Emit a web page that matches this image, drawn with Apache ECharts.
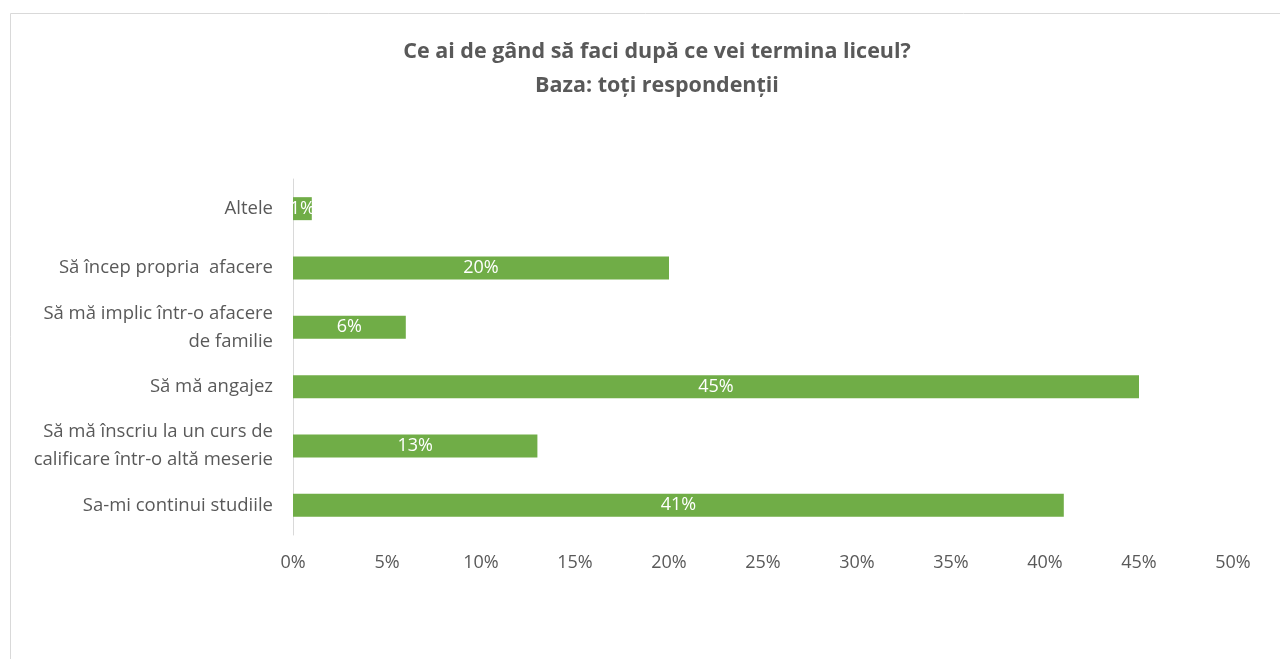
<!DOCTYPE html>
<html>
<head>
<meta charset="utf-8">
<script src="https://cdn.jsdelivr.net/npm/echarts@6/dist/echarts.min.js"></script>
<style>
    html, body { margin: 0; padding: 0; background: #fff; }
    #chart { width: 1280px; height: 659px; }
</style>
</head>
<body>
<div id="chart"></div>
<script>
// categories listed bottom -> top (category axis starts at bottom)
var categories = [
    'Sa-mi continui studiile',
    'Să mă înscriu la un curs de\ncalificare într-o altă meserie',
    'Să mă angajez',
    'Să mă implic într-o afacere\nde familie',
    'Să încep propria  afacere',
    'Altele'
];
var values = [41, 13, 45, 6, 20, 1];
var xTicks = [0, 5, 10, 15, 20, 25, 30, 35, 40, 45, 50];

var dom = document.getElementById('chart');
var myChart = echarts.init(dom);
var font = '"Open Sans", "Noto Sans", sans-serif';

var option = {
    animation: false,
    textStyle: { fontFamily: font },
    graphic: [{
        type: 'rect',
        shape: { x: 10.5, y: 13.5, width: 1290, height: 700 },
        style: { fill: 'none', stroke: '#d9d9d9', lineWidth: 1 }
    }],
    title: {
        left: 652,
        textAlign: 'center',
        top: 30,
        text: 'Ce ai de gând să faci după ce vei termina liceul?\nBaza: toți respondenții',
        textStyle: {
            color: '#595959',
            fontSize: 21.5,
            fontWeight: 'bold',
            fontFamily: font,
            lineHeight: 34
        }
    },
    grid: {
        left: 293,
        right: 47,
        top: 179,
        bottom: 124,
        containLabel: false
    },
    xAxis: {
        type: 'value',
        min: xTicks[0],
        max: xTicks[xTicks.length - 1],
        interval: 5,
        axisLine: { show: false },
        axisTick: { show: false },
        splitLine: { show: false },
        axisLabel: {
            color: '#595959',
            fontSize: 18,
            margin: 19,
            formatter: '{value}%'
        }
    },
    yAxis: {
        type: 'category',
        data: categories,
        axisTick: { show: false },
        axisLine: { show: true, lineStyle: { color: '#d9d9d9', width: 1 } },
        axisLabel: {
            color: '#595959',
            fontSize: 18.5,
            margin: 20,
            lineHeight: 28,
            align: 'right'
        }
    },
    series: [{
        type: 'bar',
        data: values,
        barWidth: 23,
        itemStyle: { color: '#70ad47' },
        label: {
            show: true,
            position: 'inside',
            color: '#ffffff',
            fontSize: 18,
            formatter: '{c}%'
        }
    }]
};

if (option && typeof option === 'object') {
    myChart.setOption(option);
}

window.addEventListener('resize', function () {
    myChart.resize();
});
</script>
</body>
</html>
